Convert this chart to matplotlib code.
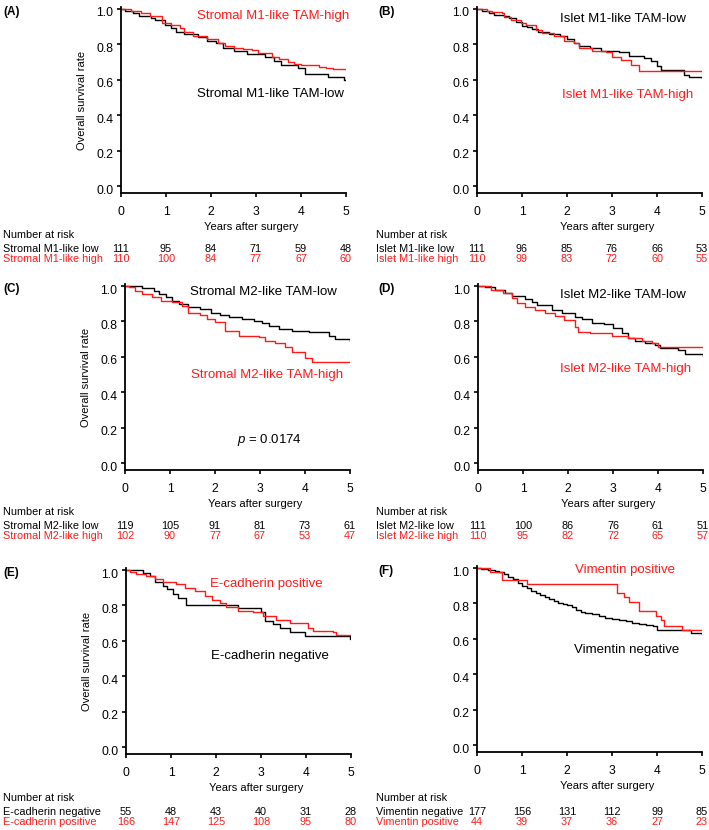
import numpy as np
import matplotlib.pyplot as plt
import matplotlib.transforms as mtransforms

plt.rcParams['font.family'] = ['Liberation Sans', 'DejaVu Sans']
plt.rcParams['mathtext.fontset'] = 'custom'
plt.rcParams['mathtext.it'] = 'Liberation Sans:italic'
plt.rcParams['mathtext.rm'] = 'Liberation Sans'

W, H = 709, 830
RED = '#ff1a1a'
years = [0, 1, 2, 3, 4, 5]
y_ticks = [0.0, 0.2, 0.4, 0.6, 0.8, 1.0]

# (A) stromal M1-like TAM
a_low_t = [0, 0.08, 0.27, 0.4, 0.67, 0.75, 0.97, 1.12, 1.23, 1.4, 1.7, 1.9, 2.1, 2.27, 2.5, 2.8,
           3.2, 3.4, 3.55, 3.93, 4.08, 4.6, 4.95, 5.0]
a_low_s = [1.0, 0.99, 0.975, 0.96, 0.95, 0.94, 0.91, 0.89, 0.87, 0.86, 0.84, 0.82, 0.81, 0.78, 0.765,
           0.745, 0.73, 0.705, 0.685, 0.665, 0.635, 0.615, 0.60, 0.60]
a_high_t = [0, 0.23, 0.45, 0.64, 0.9, 1.1, 1.3, 1.4, 1.6, 1.9, 2.15, 2.3, 2.5, 2.7, 2.9, 3.05, 3.35,
            3.5, 3.7, 3.85, 4.0, 4.4, 4.55, 4.7, 5.0]
a_high_s = [1.0, 0.99, 0.98, 0.96, 0.92, 0.91, 0.89, 0.87, 0.85, 0.83, 0.81, 0.79, 0.78, 0.775, 0.77,
            0.75, 0.73, 0.72, 0.70, 0.69, 0.685, 0.675, 0.668, 0.66, 0.66]

# (B) islet M1-like TAM
b_low_t = [0, 0.12, 0.27, 0.38, 0.6, 0.71, 0.86, 1.0, 1.12, 1.23, 1.35, 1.6, 1.85, 2.0, 2.15, 2.27,
           2.5, 2.75, 3.16, 3.38, 3.71, 3.86, 4.0, 4.08, 4.6, 4.7, 5.0]
b_low_s = [1.0, 0.99, 0.98, 0.966, 0.96, 0.95, 0.925, 0.906, 0.9, 0.887, 0.87, 0.86, 0.845, 0.83,
           0.81, 0.79, 0.78, 0.765, 0.755, 0.737, 0.725, 0.707, 0.68, 0.656, 0.628, 0.615, 0.61]
b_high_t = [0, 0.23, 0.34, 0.56, 0.6, 0.75, 0.97, 1.08, 1.3, 1.45, 1.7, 1.93, 2.15, 2.27, 2.56, 2.86,
            3.0, 3.2, 3.42, 3.6, 5.0]
b_high_s = [1.0, 0.99, 0.985, 0.975, 0.953, 0.94, 0.92, 0.91, 0.88, 0.863, 0.845, 0.82, 0.81, 0.78,
            0.76, 0.755, 0.73, 0.71, 0.685, 0.652, 0.652]

# (C) stromal M2-like TAM
c_low_t = [0, 0.38, 0.64, 0.75, 0.9, 1.04, 1.19, 1.41, 1.67, 1.9, 2.12, 2.3, 2.6, 2.86, 3.04, 3.2,
           3.42, 3.71, 4.08, 4.53, 4.67, 5.0]
c_low_s = [1.0, 0.99, 0.974, 0.955, 0.936, 0.917, 0.90, 0.88, 0.87, 0.85, 0.838, 0.823, 0.813, 0.80,
           0.79, 0.775, 0.757, 0.747, 0.738, 0.72, 0.70, 0.69]
c_high_t = [0, 0.08, 0.23, 0.38, 0.6, 0.79, 1.04, 1.27, 1.41, 1.67, 1.82, 2.0, 2.23, 2.53, 2.97, 3.12,
            3.34, 3.56, 3.71, 4.0, 4.16, 5.0]
c_high_s = [1.0, 0.993, 0.974, 0.955, 0.936, 0.917, 0.908, 0.889, 0.85, 0.836, 0.813, 0.794, 0.747,
            0.719, 0.71, 0.69, 0.677, 0.653, 0.625, 0.596, 0.568, 0.568]

# (D) islet M2-like TAM
d_low_t = [0, 0.15, 0.38, 0.6, 0.75, 1.04, 1.19, 1.3, 1.64, 1.86, 2.16, 2.3, 2.53, 2.79, 3.01, 3.19,
           3.34, 3.49, 3.71, 3.93, 4.04, 4.44, 4.6, 5.0]
d_low_s = [1.0, 0.992, 0.977, 0.962, 0.944, 0.925, 0.912, 0.893, 0.865, 0.846, 0.827, 0.812, 0.793,
           0.784, 0.765, 0.733, 0.705, 0.692, 0.677, 0.667, 0.648, 0.639, 0.617, 0.605]
d_high_t = [0, 0.3, 0.56, 0.75, 0.86, 1.04, 1.27, 1.49, 1.71, 1.9, 2.16, 2.23, 2.49, 2.97, 3.34, 3.64,
            3.86, 4.0, 5.0]
d_high_s = [1.0, 0.977, 0.959, 0.93, 0.902, 0.883, 0.865, 0.846, 0.83, 0.808, 0.77, 0.742, 0.733,
            0.718, 0.705, 0.69, 0.677, 0.658, 0.658]

# (E) E-cadherin
e_neg_t = [0, 0.38, 0.53, 0.64, 0.82, 0.9, 1.04, 1.16, 1.34, 2.49, 3.0, 3.08, 3.27, 3.42, 3.64, 3.97,
           4.98, 5.0]
e_neg_s = [1.0, 0.985, 0.966, 0.93, 0.91, 0.89, 0.863, 0.84, 0.80, 0.787, 0.76, 0.712, 0.694, 0.675,
           0.647, 0.628, 0.61, 0.61]
e_pos_t = [0, 0.08, 0.23, 0.45, 0.64, 0.82, 1.12, 1.3, 1.53, 1.75, 1.9, 2.08, 2.23, 2.49, 2.82, 3.04,
           3.34, 3.64, 4.04, 4.16, 4.6, 4.67, 5.0]
e_pos_s = [1.0, 0.99, 0.98, 0.966, 0.947, 0.934, 0.92, 0.90, 0.88, 0.853, 0.83, 0.816, 0.79, 0.77,
           0.76, 0.74, 0.72, 0.70, 0.675, 0.656, 0.647, 0.635, 0.635]

# (F) vimentin
f_neg_t = [0, 0.1, 0.25, 0.4, 0.5, 0.6, 0.7, 0.8, 0.9, 1.0, 1.1, 1.2, 1.3, 1.4, 1.5, 1.6, 1.7, 1.8,
           1.9, 2.0, 2.1, 2.2, 2.3, 2.4, 2.55, 2.7, 2.85, 3.0, 3.15, 3.3, 3.45, 3.6, 3.75, 3.9, 4.0,
           4.3, 4.6, 4.75, 4.9, 5.0]
f_neg_s = [1.0, 0.995, 0.99, 0.982, 0.976, 0.966, 0.95, 0.936, 0.917, 0.90, 0.885, 0.872, 0.86, 0.848,
           0.835, 0.823, 0.814, 0.805, 0.797, 0.79, 0.778, 0.76, 0.754, 0.748, 0.74, 0.73, 0.72,
           0.714, 0.707, 0.70, 0.692, 0.684, 0.677, 0.67, 0.65, 0.648, 0.647, 0.635, 0.632, 0.628]
f_pos_t = [0, 0.3, 0.55, 1.1, 3.1, 3.27, 3.38, 3.6, 3.97, 4.08, 4.15, 4.55, 5.0]
f_pos_s = [1.0, 0.977, 0.932, 0.909, 0.86, 0.835, 0.81, 0.757, 0.73, 0.705, 0.675, 0.648, 0.648]

# numbers at risk
a_rows = ['Stromal M1-like low', 'Stromal M1-like high']
a_low_n = [111, 95, 84, 71, 59, 48]
a_high_n = [110, 100, 84, 77, 67, 60]
b_rows = ['Islet M1-like low', 'Islet M1-like high']
b_low_n = [111, 96, 85, 76, 66, 53]
b_high_n = [110, 99, 83, 72, 60, 55]
c_rows = ['Stromal M2-like low', 'Stromal M2-like high']
c_low_n = [119, 105, 91, 81, 73, 61]
c_high_n = [102, 90, 77, 67, 53, 47]
d_rows = ['Islet M2-like low', 'Islet M2-like high']
d_low_n = [111, 100, 86, 76, 61, 51]
d_high_n = [110, 95, 82, 72, 65, 57]
e_rows = ['E-cadherin negative', 'E-cadherin positive']
e_neg_n = [55, 48, 43, 40, 31, 28]
e_pos_n = [166, 147, 125, 108, 95, 80]
f_rows = ['Vimentin negative', 'Vimentin positive']
f_neg_n = [177, 156, 131, 112, 99, 85]
f_pos_n = [44, 39, 37, 36, 27, 23]

panels = [
    dict(tag='(A)', L=121, y0=186, nar=235, black=(a_low_t, a_low_s), red=(a_high_t, a_high_s),
         black_txt=('Stromal M1-like TAM-low', 1.69, 0.52), red_txt=('Stromal M1-like TAM-high', 1.69, 0.962),
         rows=a_rows, black_n=a_low_n, red_n=a_high_n, ylab=True),
    dict(tag='(B)', L=477, y0=186, nar=235, black=(b_low_t, b_low_s), red=(b_high_t, b_high_s),
         black_txt=('Islet M1-like TAM-low', 1.84, 0.942), red_txt=('Islet M1-like TAM-high', 1.89, 0.514),
         rows=b_rows, black_n=b_low_n, red_n=b_high_n, ylab=False),
    dict(tag='(C)', L=125, y0=463, nar=512, black=(c_low_t, c_low_s), red=(c_high_t, c_high_s),
         black_txt=('Stromal M2-like TAM-low', 1.44, 0.966), red_txt=('Stromal M2-like TAM-high', 1.47, 0.495),
         rows=c_rows, black_n=c_low_n, red_n=c_high_n, ylab=True, p='$p$ = 0.0174'),
    dict(tag='(D)', L=478, y0=463, nar=512, black=(d_low_t, d_low_s), red=(d_high_t, d_high_s),
         black_txt=('Islet M2-like TAM-low', 1.82, 0.949), red_txt=('Islet M2-like TAM-high', 1.82, 0.53),
         rows=d_rows, black_n=d_low_n, red_n=d_high_n, ylab=False),
    dict(tag='(E)', L=126, y0=747, nar=798, black=(e_neg_t, e_neg_s), red=(e_pos_t, e_pos_s),
         black_txt=('E-cadherin negative', 1.89, 0.514), red_txt=('E-cadherin positive', 1.87, 0.923),
         rows=e_rows, black_n=e_neg_n, red_n=e_pos_n, ylab=True),
    dict(tag='(F)', L=477, y0=745, nar=798, black=(f_neg_t, f_neg_s), red=(f_pos_t, f_pos_s),
         black_txt=('Vimentin negative', 2.16, 0.537), red_txt=('Vimentin positive', 2.18, 0.989),
         rows=f_rows, black_n=f_neg_n, red_n=f_pos_n, ylab=False),
]

fig = plt.figure(figsize=(W / 100, H / 100), dpi=100)
unit = 177.0  # px per survival unit
ymin, ymax = -0.04, 1.01

for i, p in enumerate(panels):
    left_col = (i % 2 == 0)
    bottom_px = p['y0'] - ymin * unit
    ax = fig.add_axes([p['L'] / W, 1 - bottom_px / H, 225 / W, (ymax - ymin) * unit / H])
    ax.step(*p['black'], where='post', color='black', lw=1.0)
    ax.step(*p['red'], where='post', color=RED, lw=1.0)
    ax.set_xlim(0, 5)
    ax.set_ylim(ymin, ymax)
    ax.set_xticks(years)
    ax.set_yticks(y_ticks)
    ax.set_yticklabels(['%.1f' % v for v in y_ticks])
    for s in ['top', 'right']:
        ax.spines[s].set_visible(False)
    for s in ['left', 'bottom']:
        ax.spines[s].set_linewidth(1.3)
    ax.tick_params(direction='out', length=2.6, width=1.2, labelsize=8.7)
    ax.tick_params(axis='x', pad=7.0)
    ax.tick_params(axis='y', pad=3.0)
    off = mtransforms.ScaledTranslation(0, -3 / 100, fig.dpi_scale_trans)
    for lab in ax.get_yticklabels():
        lab.set_transform(lab.get_transform() + off)

    ax.set_xlabel('Years after surgery', fontsize=8)
    ax.xaxis.set_label_coords(0.58, -34 / ((ymax - ymin) * unit))
    ax.xaxis.label.set_va('center')
    if p['ylab']:
        ax.set_ylabel('Overall survival rate', fontsize=8)
        ax.yaxis.set_label_coords(-0.172, 0.5)
        ax.yaxis.label.set_va('center')

    txt, tx, ty = p['black_txt']
    ax.text(tx, ty, txt, color='black', fontsize=9.5, va='center', ha='left')
    txt, tx, ty = p['red_txt']
    ax.text(tx, ty, txt, color=RED, fontsize=9.5, va='center', ha='left')
    if 'p' in p:
        ax.text(2.49, 0.128, p['p'], fontsize=9.5, va='center', ha='left')

    # panel tag
    tag_x = 3 if left_col else 378
    fig.text(tag_x / W, 1 - (p['y0'] - 174) / H, p['tag'], fontsize=8.5, fontweight='bold',
             va='center', ha='left')

    # number at risk table
    lab_x = 3 if left_col else 376
    fig.text(lab_x / W, 1 - p['nar'] / H, 'Number at risk', fontsize=7.8, va='center', ha='left')
    trans = mtransforms.blended_transform_factory(ax.transData, fig.transFigure)
    for r, (name, nums, col) in enumerate(zip(p['rows'], [p['black_n'], p['red_n']], ['black', RED])):
        yy = 1 - (p['nar'] + 14 + 10 * r) / H
        fig.text(lab_x / W, yy, name, fontsize=7.8, color=col, va='center', ha='left')
        for t, n in zip(years, nums):
            ax.text(t, yy, str(n), transform=trans, fontsize=7.8, color=col, va='center', ha='center',
                    clip_on=False)

fig.savefig('out.png', dpi=100)
